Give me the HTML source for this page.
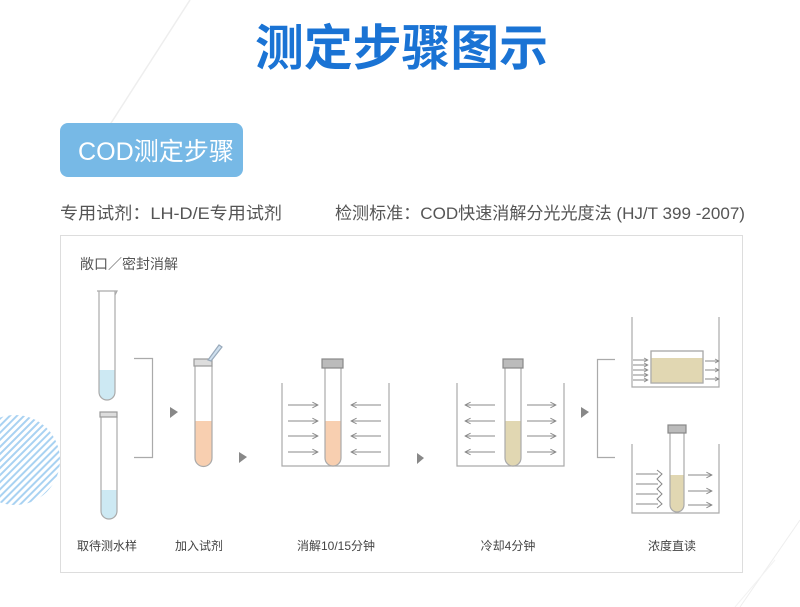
<!DOCTYPE html>
<html><head><meta charset="utf-8"><style>
html,body{margin:0;padding:0;background:#fff;width:800px;height:607px;overflow:hidden}
svg{display:block}
text{font-family:"Liberation Sans","Noto Sans CJK SC",sans-serif}
</style></head><body>
<svg width="800" height="607" viewBox="0 0 800 607" xmlns="http://www.w3.org/2000/svg">
<defs>
<marker id="ar" viewBox="0 0 10 10" refX="9" refY="5" markerWidth="7" markerHeight="7" markerUnits="userSpaceOnUse" orient="auto"><path d="M1,1 L9,5 L1,9" fill="none" stroke="#888" stroke-width="1.3"/></marker>
<marker id="ars" viewBox="0 0 10 10" refX="9" refY="5" markerWidth="5" markerHeight="5" markerUnits="userSpaceOnUse" orient="auto"><path d="M1,1 L9,5 L1,9" fill="none" stroke="#888" stroke-width="1.5"/></marker>
<pattern id="hatch" width="5" height="5" patternUnits="userSpaceOnUse" patternTransform="rotate(45)"><rect width="2" height="5" fill="#a9d2f2"/></pattern>
<clipPath id="cl"><rect x="0" y="0" width="60" height="607"/></clipPath>
</defs>
<line x1="190" y1="0" x2="95" y2="148" stroke="#eee" stroke-width="1.5"/>
<line x1="800" y1="520" x2="740" y2="607" stroke="#eee" stroke-width="1"/>
<line x1="775" y1="560" x2="735" y2="607" stroke="#f2f2f2" stroke-width="1"/>
<circle cx="15" cy="460" r="45" fill="url(#hatch)" clip-path="url(#cl)"/>
<text x="255" y="65" font-size="49" font-weight="bold" fill="#1a73d4" textLength="293" lengthAdjust="spacingAndGlyphs">测定步骤图示</text>
<rect x="60" y="123" width="183" height="54" rx="8" fill="#77b9e6"/>
<text x="78" y="160" font-size="25" fill="#fff" textLength="156" lengthAdjust="spacingAndGlyphs">COD测定步骤</text>
<text x="60" y="219" font-size="17" fill="#555" textLength="222" lengthAdjust="spacingAndGlyphs">专用试剂：LH-D/E专用试剂</text>
<text x="335" y="219" font-size="17" fill="#555" textLength="410" lengthAdjust="spacingAndGlyphs">检测标准：COD快速消解分光光度法 (HJ/T 399 -2007)</text>
<rect x="60.5" y="235.5" width="682" height="337" fill="#fff" stroke="#ddd"/>
<text x="80" y="269" font-size="14" fill="#555">敞口／密封消解</text>

<g stroke="#aaa" stroke-width="1.2" fill="none">
<path d="M99,370 V392 A8,8 0 0 0 115,392 V370 Z" fill="#cde9f3" stroke="none"/>
<path d="M99,291 V392 A8,8 0 0 0 115,392 V291 M97,291 H117 L115,295"/>
<path d="M101,490 V511 A8,8 0 0 0 117,511 V490 Z" fill="#cde9f3" stroke="none"/>
<path d="M101,417 V511 A8,8 0 0 0 117,511 V417"/>
<rect x="100" y="412" width="17" height="5" fill="#ddd" stroke="#999"/>
<path d="M134,358.5 H152.5 V457.5 H134"/>
<path d="M195,421 V458 A8.5,8.5 0 0 0 212,458 V421 Z" fill="#f8cfb0" stroke="none"/>
<path d="M195,366 V458 A8.5,8.5 0 0 0 212,458 V366"/>
<rect x="194" y="359" width="18" height="7" fill="#ddd" stroke="#999"/>
<path d="M208,360 L219,345 L222,347 L211,361 Z" fill="#cfe0ef" stroke="#9ab"/>
<path d="M282,383 V466 H389 V383"/>
<path d="M325,421 V458 A8,8 0 0 0 341,458 V421 Z" fill="#f8cfb0" stroke="none"/>
<path d="M325,368 V458 A8,8 0 0 0 341,458 V368"/>
<rect x="322" y="359" width="21" height="9" fill="#bbb" stroke="#888"/>
<path d="M457,383 V466 H564 V383"/>
<path d="M505,421 V458 A8,8 0 0 0 521,458 V421 Z" fill="#e1d7b2" stroke="none"/>
<path d="M505,368 V458 A8,8 0 0 0 521,458 V368"/>
<rect x="503" y="359" width="20" height="9" fill="#bbb" stroke="#888"/>
<path d="M615,359.5 H597.5 V457.5 H615"/>
<path d="M632,317 V387 H719 V317"/>
<rect x="651" y="351" width="52" height="32" fill="#fff"/>
<rect x="651" y="358" width="52" height="25" fill="#e1d7b2" stroke="none"/>
<rect x="651" y="351" width="52" height="32"/>
<path d="M632,444 V513 H719 V444"/>
<path d="M670,475 V505 A7,7 0 0 0 684,505 V475 Z" fill="#e1d7b2" stroke="none"/>
<path d="M670,432 V505 A7,7 0 0 0 684,505 V432"/>
<rect x="668" y="425" width="18" height="8" fill="#bbb" stroke="#888"/>
</g>
<g stroke="#888" stroke-width="1.1" fill="none" marker-end="url(#ar)">
<line x1="288" y1="405" x2="318" y2="405"/><line x1="288" y1="421" x2="318" y2="421"/><line x1="288" y1="436" x2="318" y2="436"/><line x1="288" y1="452" x2="318" y2="452"/>
<line x1="381" y1="405" x2="351" y2="405"/><line x1="381" y1="421" x2="351" y2="421"/><line x1="381" y1="436" x2="351" y2="436"/><line x1="381" y1="452" x2="351" y2="452"/>
<line x1="495" y1="405" x2="465" y2="405"/><line x1="495" y1="421" x2="465" y2="421"/><line x1="495" y1="436" x2="465" y2="436"/><line x1="495" y1="452" x2="465" y2="452"/>
<line x1="527" y1="405" x2="556" y2="405"/><line x1="527" y1="421" x2="556" y2="421"/><line x1="527" y1="436" x2="556" y2="436"/><line x1="527" y1="452" x2="556" y2="452"/>
<line x1="688" y1="475" x2="712" y2="475"/><line x1="688" y1="491" x2="712" y2="491"/><line x1="688" y1="505" x2="712" y2="505"/>
</g>
<g stroke="#888" stroke-width="1" fill="none" marker-end="url(#ars)">
<line x1="633" y1="360" x2="648" y2="360"/><line x1="633" y1="365" x2="648" y2="365"/><line x1="633" y1="370" x2="648" y2="370"/><line x1="633" y1="375" x2="648" y2="375"/><line x1="633" y1="380" x2="648" y2="380"/>
<line x1="705" y1="361" x2="719" y2="361"/><line x1="705" y1="370" x2="719" y2="370"/><line x1="705" y1="379" x2="719" y2="379"/>
</g>
<g stroke="#888" stroke-width="1" fill="none">
<line x1="636" y1="474" x2="658" y2="474"/><line x1="636" y1="484" x2="658" y2="484"/><line x1="636" y1="494" x2="658" y2="494"/><line x1="636" y1="504" x2="658" y2="504"/>
<path d="M657,470 L662,474 L657,479 L662,484 L657,489 L662,494 L657,499 L662,504 L657,508"/>
</g>
<g fill="#888">
<path d="M170,407 L178,412 L170,418 Z"/>
<path d="M239,452 L247,457 L239,463 Z"/>
<path d="M417,453 L424,458 L417,464 Z"/>
<path d="M581,407 L589,412 L581,418 Z"/>
</g>
<g font-size="12" fill="#444" text-anchor="middle">
<text x="107" y="550">取待测水样</text>
<text x="199" y="550">加入试剂</text>
<text x="336" y="550">消解10/15分钟</text>
<text x="508" y="550">冷却4分钟</text>
<text x="672" y="550">浓度直读</text>
</g>
</svg>
</body></html>
